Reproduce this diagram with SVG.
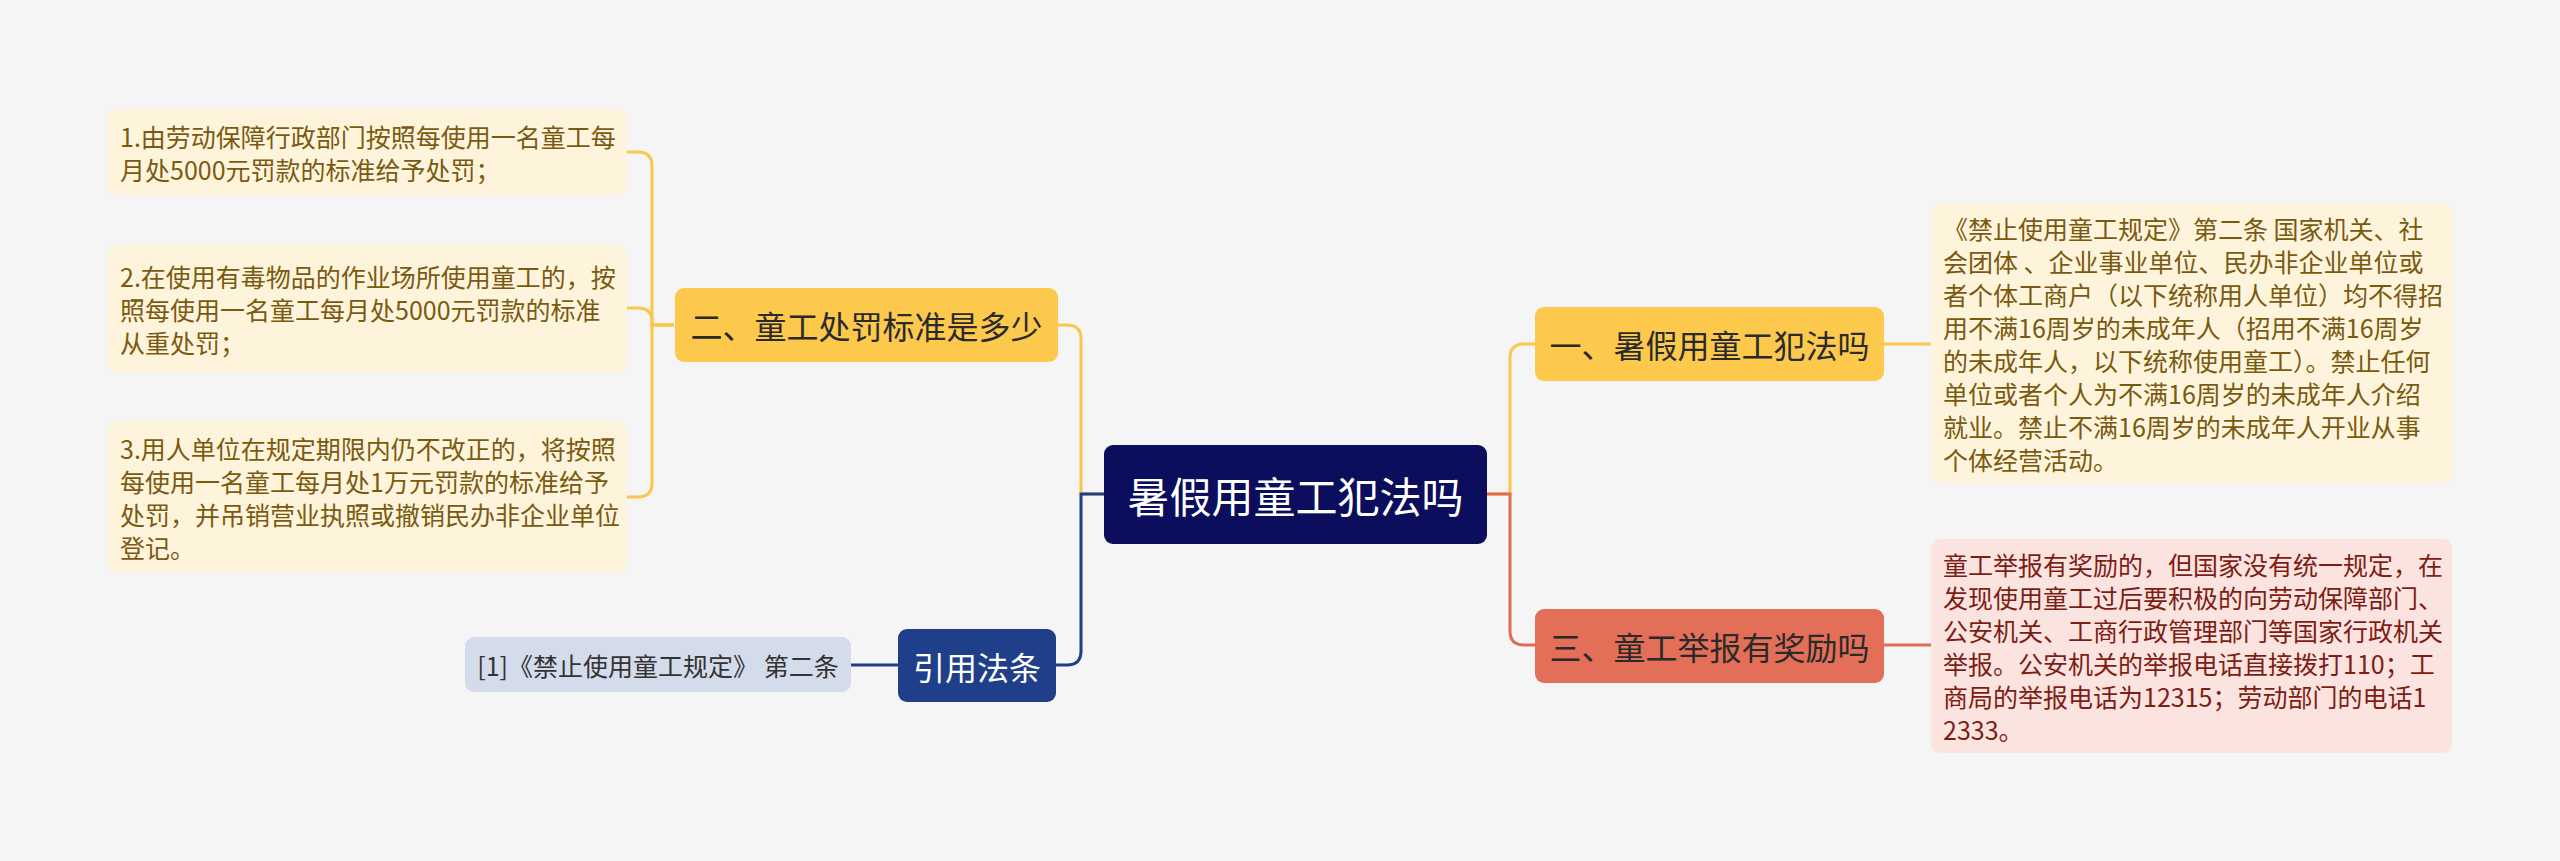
<svg xmlns="http://www.w3.org/2000/svg" width="2560" height="861" viewBox="0 0 2560 861">
<style>
text{font-family:"Noto Sans CJK SC","Noto Sans",sans-serif;dominant-baseline:central}
.bg{fill:#f5f5f5}
.yb{fill:#fcc94c}
.rb{fill:#e46f59}
.yl{fill:#fef4dc}
.rl{fill:#fbe3df}
.bl{fill:#d4dbea}
.main{fill:#0a0e5c}
.nav{fill:#1f3f8a}
.bt{font-size:32px;fill:#2a2a2a;text-anchor:middle}
.wt{fill:#ffffff;text-anchor:middle}
.lt{font-size:25px;fill:#7a5a10}
.rt{font-size:25px;fill:#7e1d15}
.gt{font-size:25px;fill:#333333;text-anchor:middle}
.c{fill:none;stroke-width:3}
.cy{stroke:#f9c84a}
.cr{stroke:#e06c56}
.cn{stroke:#1f3f8a}
</style>
<rect class="bg" x="0" y="0" width="2560" height="861"/>
<g id="connectors">
<path class="c cy" d="M1104,494 H1081 V339 Q1081,325 1067,325 H1058"/>
<path class="c cn" d="M1104,494 H1081 V651 Q1081,665 1067,665 H1056"/>
<path class="c cy" d="M1487,494 H1510 V358 Q1510,344 1524,344 H1535"/>
<path class="c cr" d="M1487,494 H1510 V631 Q1510,645 1524,645 H1535"/>
<path class="c cy" d="M674,325 H652 V166 Q652,152 638,152 H627"/>
<path class="c cy" d="M674,325 H652 V322 Q652,308 638,308 H627"/>
<path class="c cy" d="M674,325 H652 V483 Q652,497 638,497 H627"/>
<path class="c cn" d="M898,665 H851"/>
<path class="c cy" d="M1884,344 H1931"/>
<path class="c cr" d="M1884,645 H1931"/>
</g>
<g id="main">
<rect class="main" x="1104" y="445" width="383" height="99" rx="9"/>
<text class="wt" x="1295.5" y="494" font-size="42">暑假用童工犯法吗</text>
</g>
<g id="branch1">
<rect class="yb" x="1535" y="307" width="349" height="74" rx="9"/>
<text class="bt" x="1709.5" y="344">一、暑假用童工犯法吗</text>
</g>
<g id="branch2">
<rect class="yb" x="675" y="288" width="383" height="74" rx="9"/>
<text class="bt" x="866.5" y="325">二、童工处罚标准是多少</text>
</g>
<g id="branch3">
<rect class="rb" x="1535" y="609" width="349" height="74" rx="9"/>
<text class="bt" x="1709.5" y="646">三、童工举报有奖励吗</text>
</g>
<g id="cite">
<rect class="nav" x="898" y="629" width="158" height="73" rx="9"/>
<text class="wt" x="977" y="665.5" font-size="32">引用法条</text>
</g>
<g id="cite-leaf">
<rect class="bl" x="465" y="637" width="386" height="55" rx="9"/>
<text class="gt" x="658" y="664.5">[1]《禁止使用童工规定》 第二条</text>
</g>
<g id="leaf1">
<rect class="yl" x="108" y="109" width="519" height="86" rx="9"/>
<text class="lt" x="120" y="135.5">1.由劳动保障行政部门按照每使用一名童工每</text>
<text class="lt" x="120" y="168.5">月处5000元罚款的标准给予处罚；</text>
</g>
<g id="leaf2">
<rect class="yl" x="108" y="245" width="519" height="127" rx="9"/>
<text class="lt" x="120" y="275.5">2.在使用有毒物品的作业场所使用童工的，按</text>
<text class="lt" x="120" y="308.5">照每使用一名童工每月处5000元罚款的标准</text>
<text class="lt" x="120" y="341.5">从重处罚；</text>
</g>
<g id="leaf3">
<rect class="yl" x="108" y="421" width="519" height="152" rx="9"/>
<text class="lt" x="120" y="447.5">3.用人单位在规定期限内仍不改正的，将按照</text>
<text class="lt" x="120" y="480.5">每使用一名童工每月处1万元罚款的标准给予</text>
<text class="lt" x="120" y="513.5">处罚，并吊销营业执照或撤销民办非企业单位</text>
<text class="lt" x="120" y="546.5">登记。</text>
</g>
<g id="leaf4">
<rect class="yl" x="1931" y="204" width="521" height="279" rx="9"/>
<text class="lt" x="1943" y="228">《禁止使用童工规定》第二条 国家机关、社</text>
<text class="lt" x="1943" y="261">会团体 、企业事业单位、民办非企业单位或</text>
<text class="lt" x="1943" y="294">者个体工商户（以下统称用人单位）均不得招</text>
<text class="lt" x="1943" y="327">用不满16周岁的未成年人（招用不满16周岁</text>
<text class="lt" x="1943" y="360">的未成年人，以下统称使用童工）。禁止任何</text>
<text class="lt" x="1943" y="393">单位或者个人为不满16周岁的未成年人介绍</text>
<text class="lt" x="1943" y="426">就业。禁止不满16周岁的未成年人开业从事</text>
<text class="lt" x="1943" y="459">个体经营活动。</text>
</g>
<g id="leaf5">
<rect class="rl" x="1931" y="539" width="521" height="214" rx="9"/>
<text class="rt" x="1943" y="563.5">童工举报有奖励的，但国家没有统一规定，在</text>
<text class="rt" x="1943" y="596.5">发现使用童工过后要积极的向劳动保障部门、</text>
<text class="rt" x="1943" y="629.5">公安机关、工商行政管理部门等国家行政机关</text>
<text class="rt" x="1943" y="662.5">举报。公安机关的举报电话直接拨打110；工</text>
<text class="rt" x="1943" y="695.5">商局的举报电话为12315；劳动部门的电话1</text>
<text class="rt" x="1943" y="728.5">2333。</text>
</g>
</svg>
